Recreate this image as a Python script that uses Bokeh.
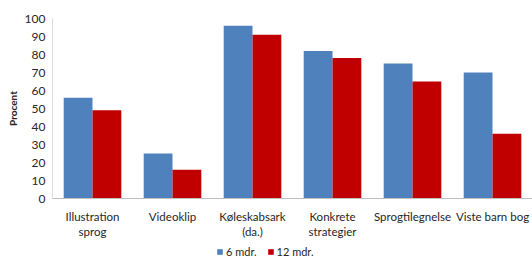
from bokeh.plotting import figure
from bokeh.layouts import column
from bokeh.models import ColumnDataSource, FactorRange, Legend, LegendItem, FixedTicker, Range1d
from bokeh.transform import dodge
from bokeh.embed import file_html
from bokeh.resources import INLINE

categories = ["Illustration\nsprog", "Videoklip", "Køleskabsark\n(da.)",
              "Konkrete\nstrategier", "Sprogtilegnelse", "Viste barn bog"]
six_months = [56, 25, 96, 82, 75, 70]
twelve_months = [49, 16, 91, 78, 65, 36]
series_names = ["6 mdr.", "12 mdr."]
y_ticks = list(range(0, 101, 10))

FONT = "Lato"
BLUE = "#4F81BD"
RED = "#C00000"
TXT = "#262626"

source = ColumnDataSource(data=dict(cat=categories, s6=six_months, s12=twelve_months))

p = figure(width=532, height=244, x_range=FactorRange(*categories), y_range=Range1d(0, 100),
           output_backend="svg", toolbar_location=None,
           min_border_left=52, min_border_right=0, min_border_top=18, min_border_bottom=46)

r1 = p.vbar(x=dodge("cat", -0.18, range=p.x_range), top="s6", width=0.36, source=source,
            fill_color=BLUE, line_color=None)
r2 = p.vbar(x=dodge("cat", 0.18, range=p.x_range), top="s12", width=0.36, source=source,
            fill_color=RED, line_color=None)

p.xgrid.grid_line_color = None
p.ygrid.grid_line_color = None
p.outline_line_color = None

p.yaxis.ticker = FixedTicker(ticks=y_ticks)
p.yaxis.axis_label = "Procent"
p.yaxis.axis_label_text_font = FONT
p.yaxis.axis_label_text_font_style = "bold"
p.yaxis.axis_label_text_font_size = "10px"
p.yaxis.axis_label_text_color = TXT
p.yaxis.axis_label_standoff = 3
p.yaxis.major_tick_line_color = None
p.yaxis.major_tick_out = 0
p.yaxis.major_tick_in = 0
p.yaxis.minor_tick_line_color = None
p.yaxis.minor_tick_out = 0
p.yaxis.axis_line_color = "#d9d9d9"
p.yaxis.major_label_text_font = FONT
p.yaxis.major_label_text_font_size = "12px"
p.yaxis.major_label_text_color = TXT
p.yaxis.major_label_standoff = 7

p.xaxis.major_tick_line_color = None
p.xaxis.major_tick_out = 0
p.xaxis.major_tick_in = 0
p.xaxis.axis_line_color = "#bfbfbf"
p.xaxis.major_label_text_font = FONT
p.xaxis.major_label_text_font_size = "11.5px"
p.xaxis.major_label_text_color = TXT
p.xaxis.major_label_standoff = 11

# legend strip below the chart (zero-size proxy glyphs carry the series colours)
lf = figure(width=532, height=16, output_backend="svg", toolbar_location=None,
            min_border=0, x_range=(0, 1), y_range=(0, 1))
lf.axis.visible = False
lf.grid.grid_line_color = None
lf.outline_line_color = None
l1 = lf.vbar(x=[0], top=[0], width=0, fill_color=BLUE, line_color=None)
l2 = lf.vbar(x=[0], top=[0], width=0, fill_color=RED, line_color=None)
legend = Legend(items=[LegendItem(label=series_names[0], renderers=[l1]),
                       LegendItem(label=series_names[1], renderers=[l2])],
                orientation="horizontal", location=(164, 2),
                border_line_color=None, background_fill_alpha=0,
                glyph_width=7, glyph_height=7, label_text_font=FONT,
                label_text_font_size="11px", label_text_color=TXT,
                spacing=10, padding=0, margin=0,
                label_standoff=3, label_height=12)
lf.add_layout(legend, "center")

layout = column(p, lf, spacing=0)
open("out.html", "w").write(file_html(layout, INLINE))
